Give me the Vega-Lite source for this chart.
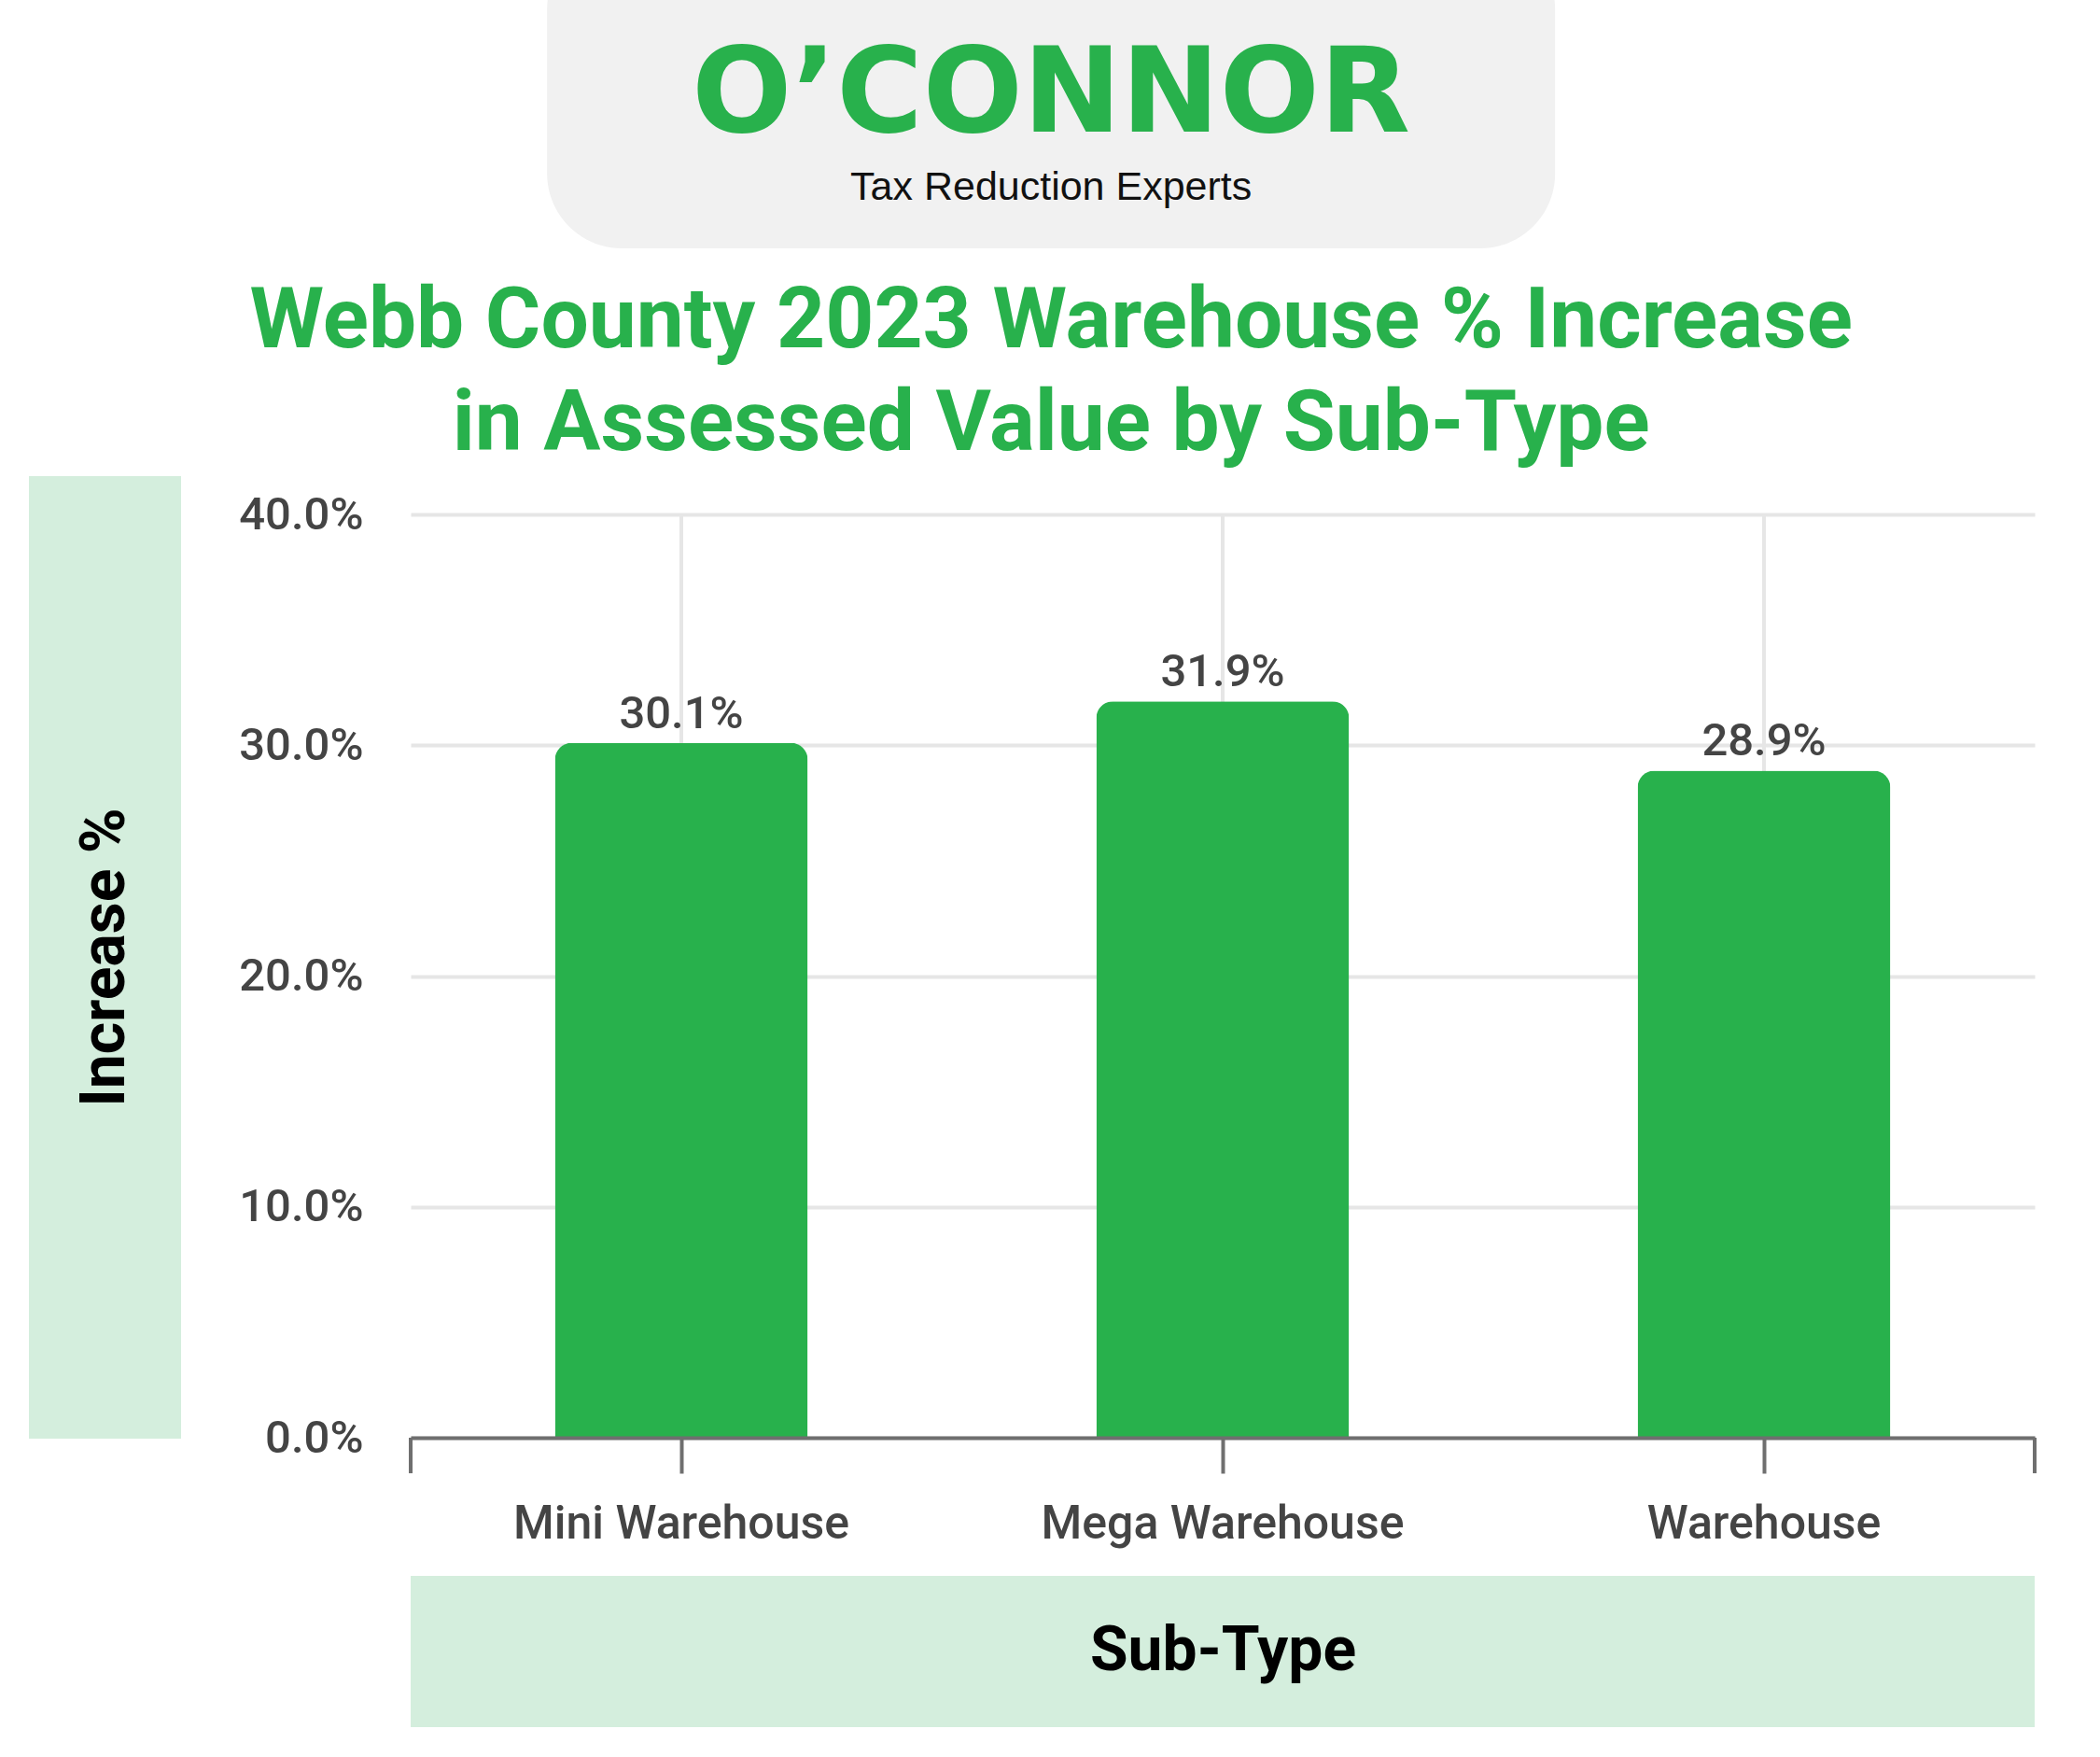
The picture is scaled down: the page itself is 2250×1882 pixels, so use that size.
{
  "$schema": "https://vega.github.io/schema/vega-lite/v6.json",
  "background": "white",
  "padding": {"left": 31, "top": -70, "right": 0, "bottom": 0},
  "config": {"view": {"stroke": null}, "font": "Roboto"},
  "spacing": 10,
  "center": true,
  "vconcat": [
    {
      "spacing": 0,
      "hconcat": [
        {"width": 39, "height": 10, "data": {"values": []}, "mark": "rect"},
        {
          "width": 1080,
          "height": 336,
          "view": {"fill": "#f1f1f1", "stroke": null, "cornerRadius": 80},
          "title": {
            "text": ["Webb County 2023 Warehouse % Increase", "in Assessed Value by Sub-Type"],
            "orient": "bottom",
            "anchor": "middle",
            "offset": 34,
            "font": "Roboto",
            "fontSize": 91,
            "fontWeight": "bold",
            "color": "#28b14c",
            "lineHeight": 110,
            "baseline": "top"
          },
          "data": {"values": [{"brand": "O’CONNOR", "tagline": "Tax Reduction Experts"}]},
          "layer": [
            {
              "mark": {"type": "text", "font": "DejaVu Sans", "fontWeight": "bold", "fontSize": 126, "color": "#28b14c", "baseline": "alphabetic", "dy": 43},
              "encoding": {"text": {"field": "brand"}}
            },
            {
              "mark": {"type": "text", "font": "Liberation Sans", "fontSize": 43, "color": "#111111", "baseline": "alphabetic", "dy": 116},
              "encoding": {"text": {"field": "tagline"}}
            }
          ]
        }
      ]
    },
    {
      "spacing": 61,
      "hconcat": [
        {
          "width": 163,
          "height": 1031,
          "view": {"fill": "#d4eedd", "stroke": null},
          "data": {"values": [{"axis_title": "Increase %"}]},
          "mark": {"type": "text", "angle": 270, "font": "Roboto", "fontSize": 66, "fontWeight": "bold", "color": "#000000", "baseline": "middle"},
          "encoding": {"text": {"field": "axis_title"}}
        },
        {
          "width": 1740,
          "height": 1030,
          "data": {"values": [
            {"sub_type": "Mini Warehouse", "increase": 0.301},
            {"sub_type": "Mega Warehouse", "increase": 0.319},
            {"sub_type": "Warehouse", "increase": 0.289}
          ]},
          "encoding": {
            "x": {
              "field": "sub_type",
              "type": "nominal",
              "sort": null,
              "scale": {"domain": ["Mini Warehouse", "Mega Warehouse", "Warehouse"], "paddingInner": 0, "paddingOuter": 0},
              "axis": {
                "title": "Sub-Type",
                "titleFont": "Roboto",
                "titleFontSize": 66,
                "titleFontWeight": "bold",
                "titleColor": "#000000",
                "titlePadding": 79,
                "labelFont": "Roboto",
                "labelFontSize": 50,
                "labelFontWeight": 500,
                "labelColor": "#444444",
                "labelPadding": 29,
                "labelAngle": 0,
                "labelLimit": 0,
                "domainColor": "#6f6f6f",
                "domainWidth": 4,
                "tickColor": "#6f6f6f",
                "tickWidth": 4,
                "tickSize": 38,
                "grid": false,
                "zindex": 1
              }
            }
          },
          "layer": [
            {
              "mark": {"type": "rect", "color": "#d4eedd"},
              "encoding": {"y": {"datum": -0.0599}, "y2": {"datum": -0.1254}}
            },
            {
              "mark": {"type": "rule", "color": "#e6e6e6", "strokeWidth": 4},
              "encoding": {"y": {"datum": 0}, "y2": {"datum": 0.4}}
            },
            {
              "mark": {"type": "bar", "color": "#28b14c", "width": {"band": 0.467}, "cornerRadiusTopLeft": 18, "cornerRadiusTopRight": 18},
              "encoding": {
                "y": {
                  "field": "increase",
                  "type": "quantitative",
                  "scale": {"domain": [0, 0.4166], "nice": false, "zero": true},
                  "axis": {
                    "values": [0, 0.1, 0.2, 0.3, 0.4],
                    "format": ".1%",
                    "title": null,
                    "domain": false,
                    "ticks": false,
                    "grid": true,
                    "gridColor": "#e6e6e6",
                    "gridWidth": 4,
                    "labelFont": "Roboto",
                    "labelFontSize": 49,
                    "labelFontWeight": 500,
                    "labelColor": "#444444",
                    "labelPadding": 51
                  }
                }
              }
            },
            {
              "mark": {"type": "text", "font": "Roboto", "fontSize": 49, "fontWeight": 500, "color": "#444444", "baseline": "alphabetic", "dy": -16},
              "encoding": {
                "y": {"field": "increase", "type": "quantitative"},
                "text": {"field": "increase", "type": "quantitative", "format": ".1%"}
              }
            },
            {
              "transform": [{"filter": "datum.sub_type === 'Mini Warehouse'"}],
              "mark": {"type": "rule", "color": "#6f6f6f", "strokeWidth": 4},
              "encoding": {
                "x": {"field": "sub_type", "type": "nominal", "bandPosition": 0},
                "y": {"datum": 0},
                "y2": {"datum": -0.0154}
              }
            },
            {
              "transform": [{"filter": "datum.sub_type === 'Warehouse'"}],
              "mark": {"type": "rule", "color": "#6f6f6f", "strokeWidth": 4},
              "encoding": {
                "x": {"field": "sub_type", "type": "nominal", "bandPosition": 1},
                "y": {"datum": 0},
                "y2": {"datum": -0.0154}
              }
            }
          ]
        }
      ]
    }
  ]
}
